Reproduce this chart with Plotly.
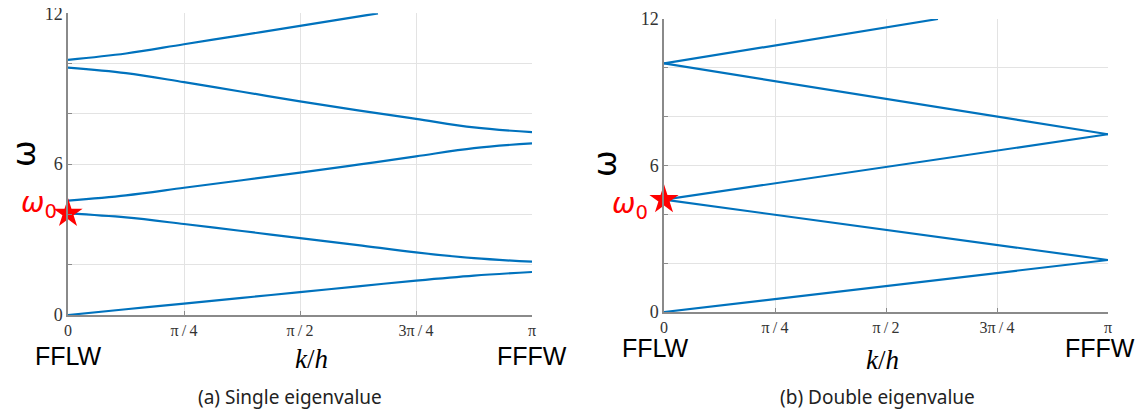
import numpy as np
import plotly.graph_objects as go

PI = np.pi
W, H = 1145, 412
OFF = 8                      # default page margin of the browser
FW, FH = W - OFF, H - OFF    # figure size actually drawn

# ---------------- data ----------------
# (a) single eigenvalue: k/h in units of pi
k_a = [0, 0.125, 0.25, 0.375, 0.5, 0.625, 0.75, 0.875, 1.0]
band1_a = [0, 0.23, 0.45, 0.68, 0.91, 1.14, 1.37, 1.57, 1.71]
band2_a = [4.04, 3.88, 3.62, 3.34, 3.06, 2.78, 2.49, 2.26, 2.12]
band3_a = [4.55, 4.76, 5.06, 5.36, 5.66, 5.98, 6.31, 6.64, 6.83]
band4_a = [9.84, 9.62, 9.26, 8.88, 8.50, 8.14, 7.80, 7.46, 7.27]
k_a5 = [0, 0.125, 0.25, 0.375, 0.5, 0.668]
band5_a = [10.15, 10.40, 10.77, 11.13, 11.50, 12.0]
omega0_a = 4.04

# (b) double eigenvalue
k_b = [0, 1.0]
band1_b = [0, 2.13]
band2_b = [4.6, 2.13]
band3_b = [4.6, 7.28]
band4_b = [10.18, 7.28]
k_b5 = [0, 0.617]
band5_b = [10.18, 12.0]
omega0_b = 4.6

xtick_vals = [0, 0.25, 0.5, 0.75, 1.0]
xtick_text = ["0", "π\u2009/\u20094", "π\u2009/\u20092", "3π\u2009/\u20094", "π"]
ytick_vals = [0, 6, 12]
ytick_text = ["0", "6", "12"]
yminor_vals = [2, 4, 8, 10]

BLUE = "#0072BD"
GRID = "#e3e3e3"
AX = "#8a8a8a"

fig = go.Figure()

def add_bands(ks, bands, xa, ya, shape):
    for kk, b in zip(ks, bands):
        fig.add_trace(go.Scatter(
            x=[v * PI for v in kk], y=b, mode="lines",
            line=dict(color=BLUE, width=2.2, shape=shape, smoothing=1.0),
            xaxis=xa, yaxis=ya, showlegend=False, hoverinfo="skip"))

add_bands([k_a, k_a, k_a, k_a, k_a5],
          [band1_a, band2_a, band3_a, band4_a, band5_a], "x", "y", "spline")
add_bands([k_b, k_b, k_b, k_b, k_b5],
          [band1_b, band2_b, band3_b, band4_b, band5_b], "x2", "y2", "linear")

for xa, ya, w0 in [("x", "y", omega0_a), ("x2", "y2", omega0_b)]:
    fig.add_trace(go.Scatter(
        x=[0], y=[w0], mode="markers",
        marker=dict(symbol="star", size=22, color="red", line=dict(width=0)),
        xaxis=xa, yaxis=ya, showlegend=False, cliponaxis=False, hoverinfo="skip"))

def px(x):
    return (x - OFF) / FW

def py(y):
    return 1 - (y - OFF) / FH

xcommon = dict(range=[0, PI], tickvals=[v * PI for v in xtick_vals], ticktext=xtick_text,
               showgrid=True, gridcolor=GRID, gridwidth=1, zeroline=False,
               showline=True, linecolor=AX, linewidth=1.5, automargin=False,
               ticks="inside", ticklen=4, tickcolor=AX, ticklabeloverflow="allow",
               tickfont=dict(family="Liberation Serif", size=16, color="#333333"))
ycommon = dict(range=[0, 12], tickvals=ytick_vals, ticktext=ytick_text,
               showgrid=True, gridcolor=GRID, gridwidth=1, zeroline=False,
               showline=True, linecolor=AX, linewidth=1.5, automargin=False,
               ticks="inside", ticklen=4, tickcolor=AX, ticklabeloverflow="allow",
               minor=dict(tickvals=yminor_vals, showgrid=True, gridcolor=GRID,
                          ticks="inside", ticklen=4, tickcolor=AX),
               tickfont=dict(family="Liberation Serif", size=18, color="#333333"))

fig.update_layout(
    width=FW, height=FH, margin=dict(l=0, r=0, t=0, b=0, autoexpand=False),
    paper_bgcolor="white", plot_bgcolor="white",
    xaxis=dict(domain=[px(68), px(532)], anchor="y", **xcommon),
    yaxis=dict(domain=[py(315), py(13.3)], anchor="x", **ycommon),
    xaxis2=dict(domain=[px(664), px(1108)], anchor="y2", **xcommon),
    yaxis2=dict(domain=[py(312), py(19)], anchor="x2", **ycommon),
)

ann = []
def A(text, x, y, size, family, color="black", angle=0, xanchor="center"):
    ann.append(dict(text=text, x=px(x), y=py(y), xref="paper", yref="paper",
                    showarrow=False, textangle=angle, xanchor=xanchor, yanchor="middle",
                    font=dict(size=size, family=family, color=color)))

# left panel
A("ω", 24, 154, 32, "DejaVu Sans", angle=-90)
A("<i>ω</i><sub>0</sub>", 59, 204, 28, "DejaVu Sans", color="red", xanchor="right")
A("FFLW", 68, 356, 25, "Liberation Sans")
A("FFFW", 532, 356, 25, "Liberation Sans")
A("<i>k</i>/<i>h</i>", 311, 359, 27, "Liberation Serif")
A("(a) Single eigenvalue", 290, 397, 19, "Noto Sans", color="#222222")

# right panel
A("ω", 605, 164, 32, "DejaVu Sans", angle=-90)
A("<i>ω</i><sub>0</sub>", 650, 205, 28, "DejaVu Sans", color="red", xanchor="right")
A("FFLW", 655, 348, 25, "Liberation Sans")
A("FFFW", 1100, 348, 25, "Liberation Sans")
A("<i>k</i>/<i>h</i>", 882, 360, 27, "Liberation Serif")
A("(b) Double eigenvalue", 877, 397, 19, "Noto Sans", color="#222222")

fig.update_layout(annotations=ann)
fig.write_html("out.html")
